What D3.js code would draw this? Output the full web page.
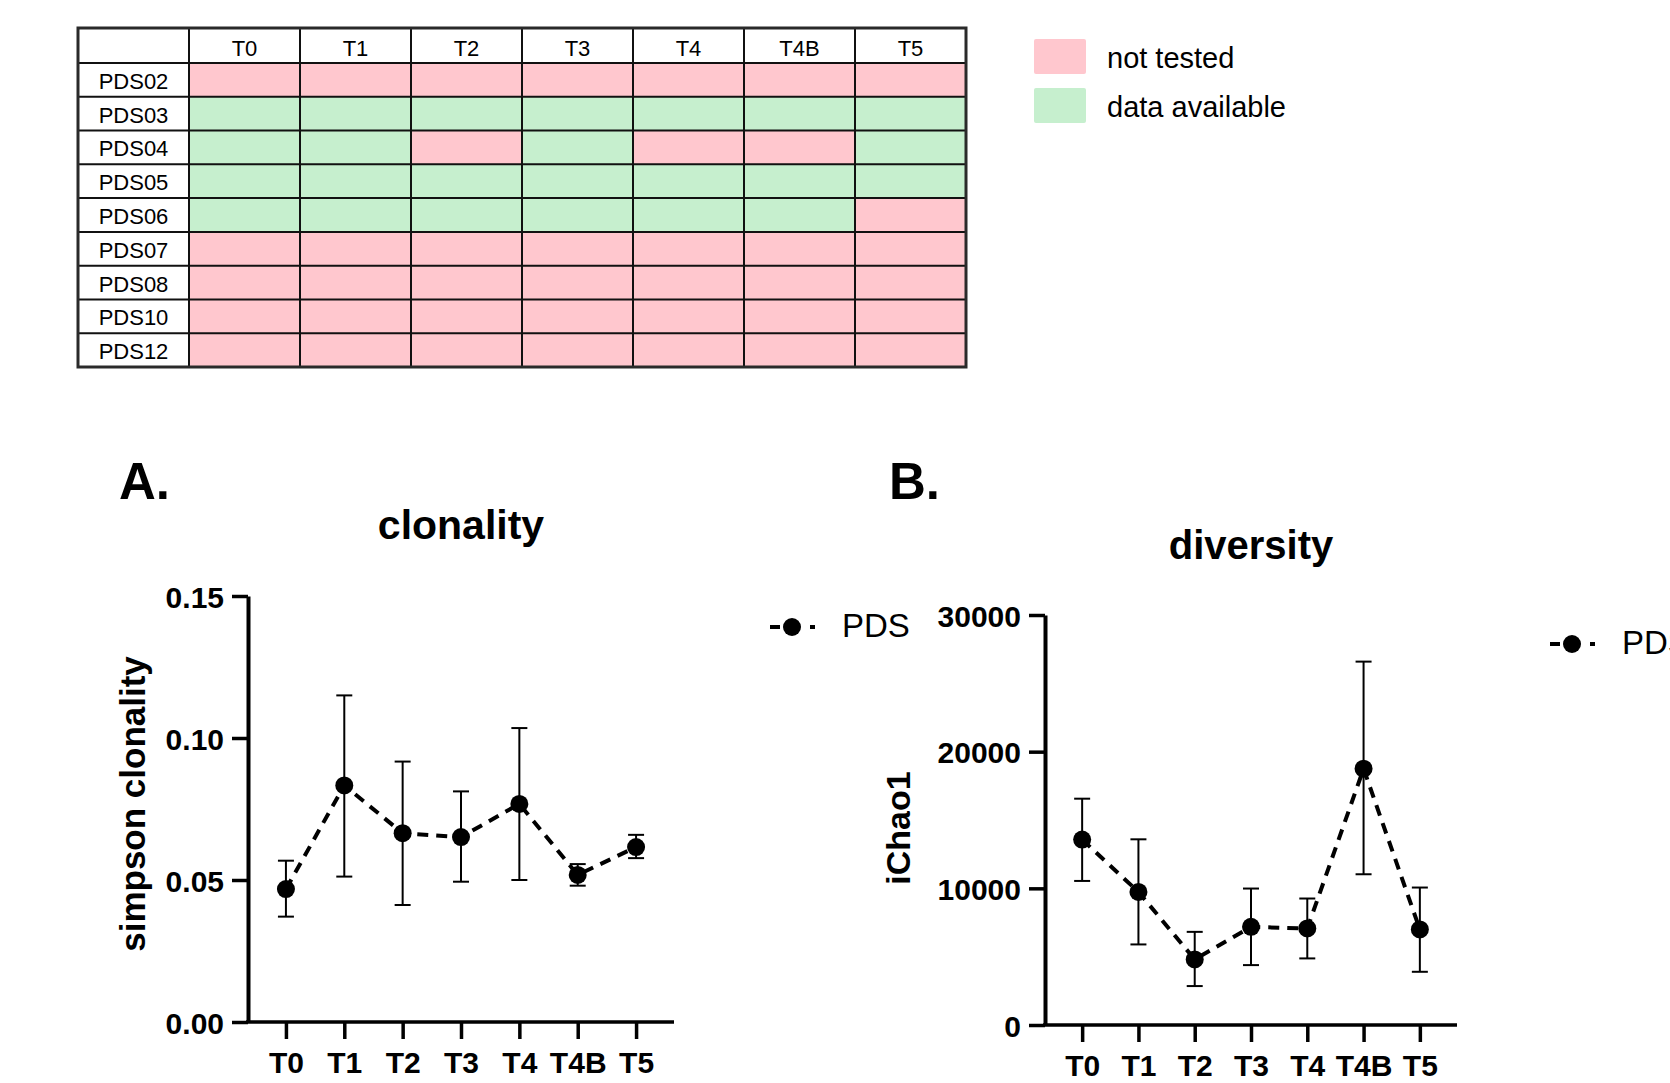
<!DOCTYPE html>
<html>
<head>
<meta charset="utf-8">
<script src="https://cdn.jsdelivr.net/npm/d3@7"></script>
<style>
  body { margin: 0; background: #fff; }
  svg text { font-family: "Liberation Sans", Arial, sans-serif; fill: #000; }
</style>
</head>
<body>
<script>
// sample availability table
const timepoints = ["T0", "T1", "T2", "T3", "T4", "T4B", "T5"];
const patients = ["PDS02", "PDS03", "PDS04", "PDS05", "PDS06", "PDS07", "PDS08", "PDS10", "PDS12"];
// 1 = data available, 0 = not tested
const availability = [
  [0, 0, 0, 0, 0, 0, 0],
  [1, 1, 1, 1, 1, 1, 1],
  [1, 1, 0, 1, 0, 0, 1],
  [1, 1, 1, 1, 1, 1, 1],
  [1, 1, 1, 1, 1, 1, 0],
  [0, 0, 0, 0, 0, 0, 0],
  [0, 0, 0, 0, 0, 0, 0],
  [0, 0, 0, 0, 0, 0, 0],
  [0, 0, 0, 0, 0, 0, 0]
];
const statusLabels = ["not tested", "data available"];
const statusColors = ["#FFC7CE", "#C6EFCE"];

// panel A - clonality
const clonalityMean = [0.0468, 0.0833, 0.0665, 0.0651, 0.0768, 0.0518, 0.0616];
const clonalityLow  = [0.0371, 0.0512, 0.0412, 0.0494, 0.0500, 0.0480, 0.0577];
const clonalityHigh = [0.0568, 0.1150, 0.0917, 0.0812, 0.1035, 0.0556, 0.0659];
const clonalityTicks = [0, 0.05, 0.10, 0.15];

// panel B - diversity
const diversityMean = [13565, 9737, 4799, 7181, 7063, 18751, 6990];
const diversityLow  = [10541, 5895, 2849, 4383, 4872, 11030, 3893];
const diversityHigh = [16560, 13587, 6815, 9985, 9255, 26589, 10058];
const diversityTicks = [0, 10000, 20000, 30000];

const seriesName = "PDS";

const svg = d3.select('body')
  .append('svg')
  .attr('width', 1670)
  .attr('height', 1083);

// ---------- table ----------
const colX = d3.scaleBand().domain(["", ...timepoints]).range([78, 966]);
const rowY = d3.scaleBand().domain(patients).range([63, 367]);
const headTop = 28;
const cellFont = 22;

const table = svg.append('g');

table.append('rect')
  .attr('x', 78).attr('y', headTop)
  .attr('width', 888).attr('height', 367 - headTop)
  .attr('fill', '#fff');

patients.forEach((p, i) => {
  table.selectAll('.cell-' + i)
    .data(timepoints)
    .join('rect')
      .attr('x', d => colX(d))
      .attr('y', rowY(p))
      .attr('width', colX.bandwidth())
      .attr('height', rowY.bandwidth())
      .attr('fill', (d, j) => statusColors[availability[i][j]]);
});

// grid lines
table.selectAll('.vline')
  .data(timepoints)
  .join('line')
    .attr('x1', d => colX(d)).attr('x2', d => colX(d))
    .attr('y1', headTop).attr('y2', 367)
    .attr('stroke', '#111').attr('stroke-width', 2);
table.selectAll('.hline')
  .data(patients)
  .join('line')
    .attr('x1', 78).attr('x2', 966)
    .attr('y1', d => rowY(d)).attr('y2', d => rowY(d))
    .attr('stroke', '#111').attr('stroke-width', 2);
table.append('rect')
  .attr('x', 78).attr('y', headTop)
  .attr('width', 888).attr('height', 367 - headTop)
  .attr('fill', 'none')
  .attr('stroke', '#2a2a2a')
  .attr('stroke-width', 3);

table.selectAll('.head')
  .data(timepoints)
  .join('text')
    .attr('x', d => colX(d) + colX.bandwidth() / 2)
    .attr('y', 56)
    .attr('text-anchor', 'middle')
    .attr('font-size', cellFont)
    .text(d => d);
table.selectAll('.rowlab')
  .data(patients)
  .join('text')
    .attr('x', colX("") + colX.bandwidth() / 2)
    .attr('y', d => rowY(d) + rowY.bandwidth() / 2 + 9)
    .attr('text-anchor', 'middle')
    .attr('font-size', cellFont)
    .text(d => d);

// table legend
const legY = d3.scalePoint().domain(statusLabels).range([56.5, 105.5]);
svg.selectAll('.leg-box')
  .data(statusLabels)
  .join('rect')
    .attr('x', 1034)
    .attr('y', d => legY(d) - 17.5)
    .attr('width', 52).attr('height', 35)
    .attr('rx', 2)
    .attr('fill', (d, i) => statusColors[i]);
svg.selectAll('.leg-text')
  .data(statusLabels)
  .join('text')
    .attr('x', 1107)
    .attr('y', d => legY(d) + 11.5)
    .attr('font-size', 29)
    .text(d => d);

// ---------- panels ----------
function drawPanel(cfg) {
  const g = svg.append('g');
  const x = d3.scalePoint().domain(timepoints).range(cfg.xRange).padding(cfg.pad);
  const y = d3.scaleLinear().domain([0, d3.max(cfg.ticks)]).range(cfg.yRange);
  const rows = timepoints.map((t, i) => ({ t, m: cfg.mean[i], lo: cfg.low[i], hi: cfg.high[i] }));

  // panel letter + title
  g.append('text')
    .attr('x', cfg.letterX).attr('y', 499)
    .attr('font-size', 51).attr('font-weight', 'bold')
    .text(cfg.letter);
  g.append('text')
    .attr('x', (cfg.xRange[0] + cfg.xRange[1]) / 2 + cfg.titleDx)
    .attr('y', cfg.titleY)
    .attr('text-anchor', 'middle')
    .attr('font-size', cfg.titleSize).attr('font-weight', 'bold')
    .text(cfg.title);

  // y axis
  const yAxis = g.append('g')
    .attr('transform', `translate(${cfg.xRange[0]},0)`)
    .call(d3.axisLeft(y).tickValues(cfg.ticks).tickFormat(cfg.fmt).tickSize(16).tickPadding(8).tickSizeOuter(0));
  yAxis.select('.domain').attr('stroke-width', 4).attr('stroke', '#000');
  yAxis.selectAll('.tick line').attr('stroke-width', 3.5).attr('stroke', '#000');
  yAxis.selectAll('.tick text')
    .attr('font-size', 30).attr('font-weight', 'bold')
    .attr('font-family', '"Liberation Sans", Arial, sans-serif')
    .attr('dy', 11).attr('fill', '#000');

  // x axis
  const xAxis = g.append('g')
    .attr('transform', `translate(0,${cfg.yRange[0]})`)
    .call(d3.axisBottom(x).tickSize(17).tickPadding(12).tickSizeOuter(0));
  xAxis.select('.domain').attr('stroke-width', 3.5).attr('stroke', '#000')
    .attr('d', `M${cfg.xRange[0] - 2},0H${cfg.xRange[1]}`);
  xAxis.selectAll('.tick line').attr('stroke-width', 3.5).attr('stroke', '#000');
  xAxis.selectAll('.tick text')
    .attr('font-size', 30).attr('font-weight', 'bold')
    .attr('font-family', '"Liberation Sans", Arial, sans-serif')
    .attr('dy', 22).attr('fill', '#000');

  // y label
  g.append('text')
    .attr('transform', `translate(${cfg.yLabelX},${cfg.yLabelY}) rotate(-90)`)
    .attr('text-anchor', 'middle')
    .attr('font-size', cfg.yLabelSize).attr('font-weight', 'bold')
    .text(cfg.yLabel);

  // dashed connecting line
  g.append('path')
    .datum(rows)
    .attr('d', d3.line().x(d => x(d.t)).y(d => y(d.m)))
    .attr('fill', 'none')
    .attr('stroke', '#000')
    .attr('stroke-width', 4)
    .attr('stroke-dasharray', '11,8');

  // error bars
  const eb = g.selectAll('.eb').data(rows).join('g');
  eb.append('line')
    .attr('x1', d => x(d.t)).attr('x2', d => x(d.t))
    .attr('y1', d => y(d.lo)).attr('y2', d => y(d.hi))
    .attr('stroke', '#000').attr('stroke-width', 2);
  eb.append('line')
    .attr('x1', d => x(d.t) - 8).attr('x2', d => x(d.t) + 8)
    .attr('y1', d => y(d.hi)).attr('y2', d => y(d.hi))
    .attr('stroke', '#000').attr('stroke-width', 2);
  eb.append('line')
    .attr('x1', d => x(d.t) - 8).attr('x2', d => x(d.t) + 8)
    .attr('y1', d => y(d.lo)).attr('y2', d => y(d.lo))
    .attr('stroke', '#000').attr('stroke-width', 2);

  // markers
  g.selectAll('.dot')
    .data(rows)
    .join('circle')
      .attr('cx', d => x(d.t))
      .attr('cy', d => y(d.m))
      .attr('r', 9)
      .attr('fill', '#000');

  // series legend
  const lg = g.append('g').attr('transform', `translate(${cfg.legX},${cfg.legY})`);
  lg.append('line')
    .attr('x1', -22).attr('x2', 23)
    .attr('y1', 0).attr('y2', 0)
    .attr('stroke', '#000').attr('stroke-width', 4)
    .attr('stroke-dasharray', '10,10');
  lg.append('circle').attr('r', 9).attr('fill', '#000');
  lg.append('text')
    .attr('x', 50).attr('y', 10)
    .attr('font-size', 33)
    .text(seriesName);
}

drawPanel({
  letter: "A.", letterX: 119,
  title: "clonality", titleY: 539, titleDx: 0, titleSize: 41,
  yLabel: "simpson clonality", yLabelX: 145, yLabelY: 804, yLabelSize: 35,
  mean: clonalityMean, low: clonalityLow, high: clonalityHigh,
  ticks: clonalityTicks, fmt: d3.format(".2f"),
  xRange: [248, 674], yRange: [1022, 596], pad: 0.65,
  legX: 792, legY: 627
});

drawPanel({
  letter: "B.", letterX: 889,
  title: "diversity", titleY: 559, titleDx: 0, titleSize: 40,
  yLabel: "iChao1", yLabelX: 910, yLabelY: 828, yLabelSize: 34,
  mean: diversityMean, low: diversityLow, high: diversityHigh,
  ticks: diversityTicks, fmt: d3.format("d"),
  xRange: [1045, 1457], yRange: [1025, 615], pad: 0.66,
  legX: 1572, legY: 644
});
</script>
</body>
</html>
